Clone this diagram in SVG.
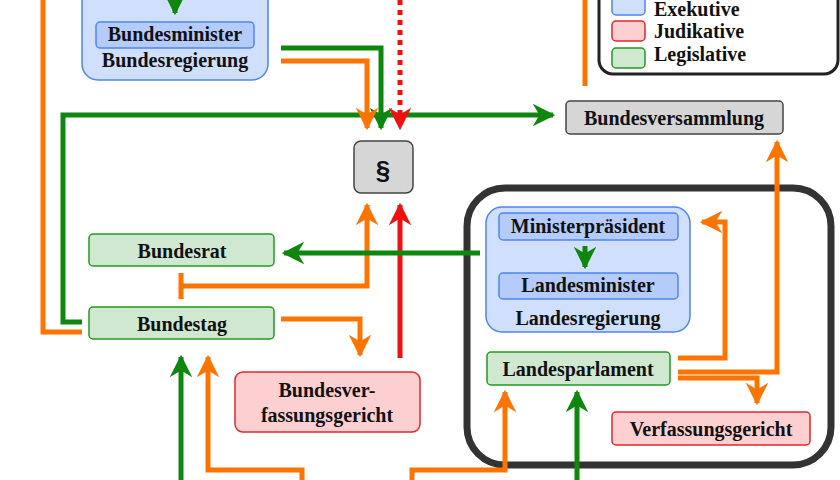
<svg xmlns="http://www.w3.org/2000/svg" width="840" height="480" viewBox="0 0 840 480">
<style>
text{font-family:"Liberation Serif",serif;font-weight:bold;font-size:20px;fill:#111;text-anchor:middle}
.ex{fill:#cfdffc;stroke:#4f86ee;stroke-width:1.5}
.exi{fill:#b5cbfa;stroke:#4f86ee;stroke-width:1.5}
.ju{fill:#fcd0d0;stroke:#e02828;stroke-width:1.5}
.le{fill:#cfe8cf;stroke:#1f9a1f;stroke-width:1.5}
.gr{fill:#d6d6d6;stroke:#444;stroke-width:1.5}
.o{fill:none;stroke:#ff7300;stroke-width:5}
.g{fill:none;stroke:#0f870f;stroke-width:5}
.r{fill:none;stroke:#f01010;stroke-width:5}
</style>
<defs>
<marker id="ao" viewBox="0 0 10 10" refX="9" refY="5" markerWidth="4.5" markerHeight="4.5" orient="auto" markerUnits="strokeWidth"><path d="M0,0 L10,5 L0,10 L3,5z" fill="#ff7300"/></marker>
<marker id="ag" viewBox="0 0 10 10" refX="9" refY="5" markerWidth="4.5" markerHeight="4.5" orient="auto" markerUnits="strokeWidth"><path d="M0,0 L10,5 L0,10 L3,5z" fill="#0f870f"/></marker>
<marker id="ar" viewBox="0 0 10 10" refX="9" refY="5" markerWidth="4.5" markerHeight="4.5" orient="auto" markerUnits="strokeWidth"><path d="M0,0 L10,5 L0,10 L3,5z" fill="#f01010"/></marker>
</defs>
<rect width="840" height="480" fill="#fff"/>
<g id="land"><rect x="467" y="188" width="364" height="277" rx="38" fill="none" stroke="#333" stroke-width="7"/></g>
<g id="legend">
<rect x="599" y="-20" width="239" height="94" rx="14" fill="#fff" stroke="#222" stroke-width="3"/>
<rect x="612" y="-6" width="33" height="21" rx="4" class="ex"/><text x="654" y="16" style="text-anchor:start">Exekutive</text>
<rect x="612" y="21" width="33" height="20" rx="4" class="ju"/><text x="654" y="38" style="text-anchor:start">Judikative</text>
<rect x="612" y="48" width="33" height="20" rx="4" class="le"/><text x="654" y="61" style="text-anchor:start">Legislative</text>
</g>
<g id="connectors">
<path class="o" d="M43,0 V332 H82"/>
<path class="g" d="M82,322 H63 V115 H553" marker-end="url(#ag)"/>
<path class="g" d="M281,48 H381 V128" marker-end="url(#ag)"/>
<path class="o" d="M281,61 H367 V128" marker-end="url(#ao)"/>
<path class="r" d="M400,0 V128" marker-end="url(#ar)" stroke-dasharray="5,5"/>
<path class="o" d="M181,286 H367 V205" marker-end="url(#ao)"/>
<path class="o" d="M181,273 V299"/>
<path class="r" d="M400,358 V205" marker-end="url(#ar)"/>
<path class="g" d="M480,253 H284" marker-end="url(#ag)"/>
<path class="o" d="M281,319 H360 V355" marker-end="url(#ao)"/>
<path class="g" d="M181,480 V357" marker-end="url(#ag)"/>
<path class="o" d="M302,480 V470 H208 V357" marker-end="url(#ao)"/>
<path class="o" d="M412,480 V470 H505 V392" marker-end="url(#ao)"/>
<path class="g" d="M577,480 V392" marker-end="url(#ag)"/>
<path class="o" d="M678,358 H725 V222 H702" marker-end="url(#ao)"/>
<path class="o" d="M678,372 H777 V142" marker-end="url(#ao)"/>
<path class="o" d="M678,378 H757 V403" marker-end="url(#ao)"/>
<path class="o" d="M585,0 V86"/>
</g>
<g id="bundesregierung">
<rect x="82" y="-20" width="186" height="100" rx="16" class="ex"/>
<path class="g" d="M175,0 V13" marker-end="url(#ag)"/>
<rect x="96" y="22" width="158" height="26" rx="4" class="exi"/>
<text x="175" y="41">Bundesminister</text>
<text x="175" y="67">Bundesregierung</text>
</g>
<g id="paragraph"><rect x="354" y="141" width="59" height="52" rx="7" class="gr"/><text x="383" y="179" style="font-family:'Liberation Sans',sans-serif;font-size:26px">§</text></g>
<g id="bundesversammlung"><rect x="566" y="101" width="217" height="33" rx="4" class="gr"/><text x="674" y="125">Bundesversammlung</text></g>
<g id="bundesrat"><rect x="89" y="234" width="185" height="32" rx="4" class="le"/><text x="182" y="258">Bundesrat</text></g>
<g id="bundestag"><rect x="89" y="307" width="185" height="32" rx="4" class="le"/><text x="182" y="331">Bundestag</text></g>
<g id="bverfg"><rect x="235" y="372" width="185" height="60" rx="8" class="ju"/><text x="327" y="397">Bundesver-</text><text x="327" y="422">fassungsgericht</text></g>
<g id="landesregierung">
<rect x="486" y="207" width="204" height="125" rx="16" class="ex"/>
<rect x="499" y="213" width="179" height="27" rx="4" class="exi"/><text x="588" y="233">Ministerpräsident</text>
<path class="g" d="M585,246 V267" marker-end="url(#ag)"/>
<rect x="499" y="273" width="179" height="26" rx="4" class="exi"/><text x="588" y="292">Landesminister</text>
<text x="588" y="325">Landesregierung</text>
</g>
<g id="landesparlament"><rect x="487" y="352" width="183" height="33" rx="4" class="le"/><text x="578" y="376">Landesparlament</text></g>
<g id="verfg"><rect x="612" y="412" width="198" height="33" rx="4" class="ju"/><text x="711" y="436">Verfassungsgericht</text></g>
</svg>
